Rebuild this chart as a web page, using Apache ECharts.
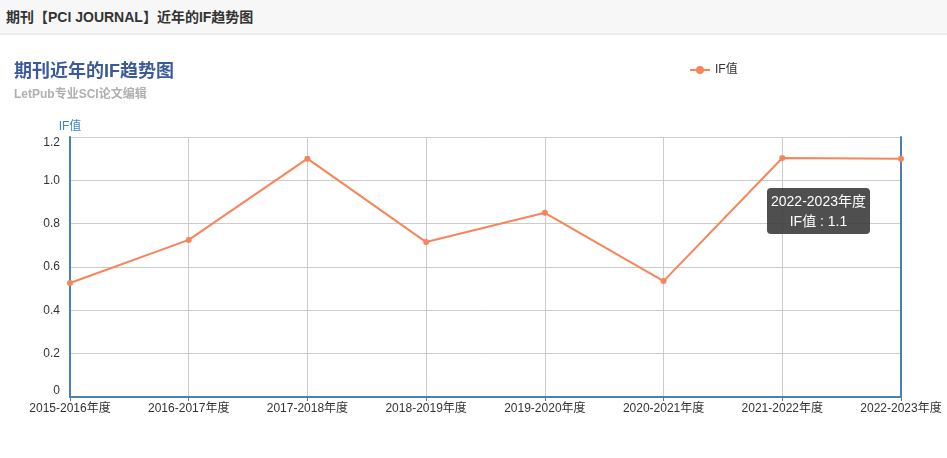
<!DOCTYPE html>
<html>
<head>
<meta charset="utf-8">
<script src="https://cdn.jsdelivr.net/npm/echarts@6/dist/echarts.min.js"></script>
<style>
html,body{margin:0;padding:0;background:#fff;}
#hdr{position:absolute;left:0;top:0;width:947px;height:35px;background:#f7f7f7;border-bottom:2px solid #ececec;z-index:2;
font:bold 14px 'Liberation Sans','Noto Sans CJK SC',sans-serif;color:#333;line-height:34px;padding-left:6px;box-sizing:border-box;}
#c{position:absolute;left:0;top:0;width:947px;height:458px;}
</style>
</head>
<body>
<div id="hdr">期刊【PCI JOURNAL】近年的IF趋势图</div>
<div id="c"></div>
<script>
var categories = ['2015-2016年度','2016-2017年度','2017-2018年度','2018-2019年度','2019-2020年度','2020-2021年度','2021-2022年度','2022-2023年度'];
var ifValues = [0.526, 0.725, 1.1, 0.715, 0.85, 0.535, 1.103, 1.1];
var yTicks = {min: 0, max: 1.2, interval: 0.2};

var font = "'Liberation Sans','Noto Sans CJK SC',sans-serif";
var axisBlue = '#4a80b2';
var chart = echarts.init(document.getElementById('c'));
chart.setOption({
  animation: false,
  textStyle: {fontFamily: font},
  title: {
    text: '期刊近年的IF趋势图',
    subtext: 'LetPub专业SCI论文编辑',
    left: 9, top: 58, itemGap: 8,
    textStyle: {fontSize: 18, fontWeight: 'bold', color: '#3b5a9a', fontFamily: font},
    subtextStyle: {fontSize: 12, color: '#b0b0b0', fontWeight: 'bold', fontFamily: font}
  },
  legend: {
    left: 684, top: 59,
    itemWidth: 20, itemHeight: 10, itemGap: 10,
    textStyle: {fontSize: 12, color: '#333', fontFamily: font},
    data: ['IF值']
  },
  tooltip: {
    trigger: 'item',
    alwaysShowContent: true,
    backgroundColor: 'rgba(60,60,60,0.9)',
    borderWidth: 0,
    borderRadius: 4,
    padding: [3, 4],
    textStyle: {color: '#fff', fontSize: 14, fontFamily: font},
    extraCssText: 'box-shadow:none;text-align:center;line-height:20px;',
    position: function (point) { return [point[0] - 134, point[1] + 29]; },
    formatter: function (p) { return p.name + '<br/>' + p.seriesName + ' : ' + p.value; }
  },
  grid: {left: 70, right: 46, top: 137, bottom: 61, containLabel: false},
  xAxis: {
    type: 'category',
    boundaryGap: false,
    data: categories,
    axisLine: {lineStyle: {color: axisBlue, width: 2}},
    axisTick: {show: true, length: 4, lineStyle: {color: axisBlue}},
    axisLabel: {color: '#333', fontSize: 12, margin: 6, interval: 0},
    splitLine: {show: true, lineStyle: {color: '#ccc'}}
  },
  yAxis: [{
    type: 'value',
    name: 'IF值',
    nameGap: 4,
    nameTextStyle: {color: '#3a8ac4', fontSize: 12, align: 'center'},
    min: yTicks.min, max: yTicks.max, interval: yTicks.interval,
    axisLine: {show: true, lineStyle: {color: axisBlue, width: 2}},
    axisTick: {show: false},
    axisLabel: {color: '#333', fontSize: 12, margin: 10,
      verticalAlignMinLabel: 'bottom', verticalAlignMaxLabel: 'top',
      formatter: function (v) { return v === 0 ? '0' : v.toFixed(1); }},
    splitLine: {show: true, lineStyle: {color: '#ccc'}}
  }, {
    type: 'value',
    position: 'right',
    min: yTicks.min, max: yTicks.max, interval: yTicks.interval,
    axisLine: {show: true, lineStyle: {color: axisBlue, width: 2}},
    axisTick: {show: false},
    axisLabel: {show: false},
    splitLine: {show: false}
  }],
  series: [{
    name: 'IF值',
    type: 'line',
    data: ifValues,
    symbol: 'circle',
    symbolSize: 6,
    itemStyle: {color: '#f8845a'},
    lineStyle: {color: '#f8845a', width: 2}
  }]
});
chart.dispatchAction({type: 'showTip', seriesIndex: 0, dataIndex: 7});
</script>
</body>
</html>
